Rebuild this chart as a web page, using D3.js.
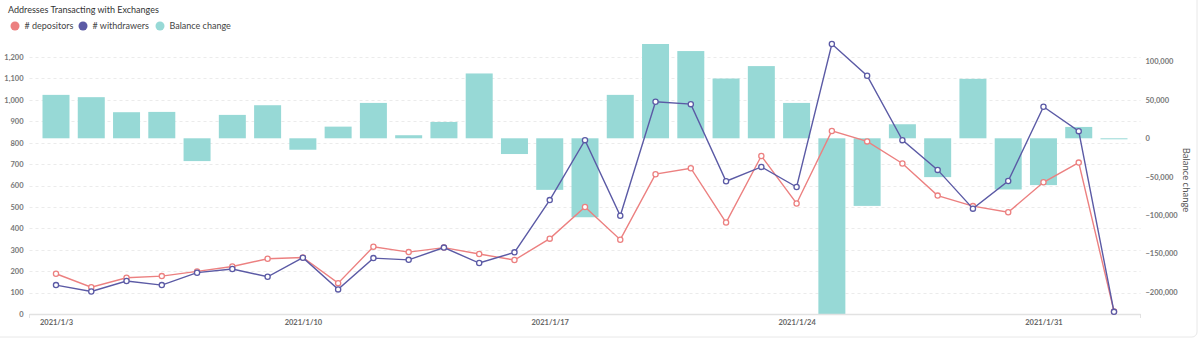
<!DOCTYPE html>
<html><head><meta charset="utf-8">
<script src="https://cdn.jsdelivr.net/npm/d3@7"></script>
<style>
body{margin:0;background:#fff;}
svg{display:block;font-family:Lato,"Open Sans",sans-serif;}
</style>
</head><body>
<svg id="c" width="1200" height="351"></svg>
<script>
const dates = ["2021/1/3","2021/1/4","2021/1/5","2021/1/6","2021/1/7","2021/1/8","2021/1/9",
  "2021/1/10","2021/1/11","2021/1/12","2021/1/13","2021/1/14","2021/1/15","2021/1/16",
  "2021/1/17","2021/1/18","2021/1/19","2021/1/20","2021/1/21","2021/1/22","2021/1/23",
  "2021/1/24","2021/1/25","2021/1/26","2021/1/27","2021/1/28","2021/1/29","2021/1/30",
  "2021/1/31","2021/2/1","2021/2/2"];
const depositors = [188,125,169,177,199,222,258,264,144,314,289,310,280,252,352,500,347,653,681,427,738,516,855,806,703,553,504,475,615,707,12];
const withdrawers = [135,105,154,135,193,210,174,263,115,261,253,310,238,288,532,812,459,991,980,620,687,593,1261,1113,812,673,492,621,968,854,10];
const balanceChange = [56600,53600,34000,34400,-29700,30500,43100,-14900,15200,46100,4000,21300,84500,-20500,-67200,-102900,56600,122900,113700,77900,94100,46100,-229000,-88100,18300,-50600,77500,-66700,-61000,14800,-1200];
const leftTicks = [0,100,200,300,400,500,600,700,800,900,1000,1100,1200];
const rightTicks = [100000,50000,0,-50000,-100000,-150000,-200000];
const xTickLabels = ["2021/1/3","2021/1/10","2021/1/17","2021/1/24","2021/1/31"];
const seriesNames = ["# depositors","# withdrawers","Balance change"];

const colors = {dep:"#ec8080", wit:"#5b5aa5", bal:"#97d9d6"};
const svg = d3.select("#c");

// card border
svg.append("rect").attr("x",-6).attr("y",-6).attr("width",1203).attr("height",343)
  .attr("rx",5).attr("fill","none").attr("stroke","#e8e8e8");

const plotTop = 44, plotBottom = 314, plotLeft = 29.5, plotRight = 1140.5;
const x = d3.scalePoint().domain(dates).range([56,1114]);
const yL = d3.scaleLinear().domain([0, d3.max(withdrawers)]).range([plotBottom, plotTop]);
const yR = d3.scaleLinear().domain([d3.min(balanceChange), d3.max(balanceChange)]).range([plotBottom, plotTop]);

// grid
svg.append("g").selectAll("line").data(leftTicks.filter(d=>d>0)).join("line")
  .attr("x1",plotLeft).attr("x2",plotRight).attr("y1",d=>Math.round(yL(d))+0.5).attr("y2",d=>Math.round(yL(d))+0.5)
  .attr("stroke","#ebebeb").attr("stroke-dasharray","3,3");

// left axis
const ga = svg.append("g").attr("transform",`translate(${plotLeft},0)`)
  .call(d3.axisLeft(yL).tickValues(leftTicks).tickFormat(d3.format(",")).tickSize(0).tickPadding(6));
ga.select(".domain").remove();
ga.selectAll("text").attr("font-size",7.5).attr("font-weight","bold").attr("fill","#777").attr("font-family","Lato");

// right axis
const gr = svg.append("g").attr("transform",`translate(${plotRight},0)`)
  .call(d3.axisRight(yR).tickValues(rightTicks).tickFormat(d3.format(",")).tickSize(0).tickPadding(5));
gr.select(".domain").remove();
gr.selectAll("text").attr("font-size",7.5).attr("font-weight","bold").attr("fill","#777").attr("font-family","Lato");

// bottom axis
const gb = svg.append("g").attr("transform",`translate(0,${plotBottom})`)
  .call(d3.axisBottom(x).tickValues(xTickLabels).tickSize(0).tickPadding(6));
gb.select(".domain").remove();
gb.selectAll("text").attr("font-size",7.5).attr("font-weight","bold").attr("fill","#666").attr("font-family","Lato");

// bars
svg.append("g").selectAll("rect").data(balanceChange).join("rect")
  .attr("x",(d,i)=>x(dates[i])-13.5).attr("width",27)
  .attr("y",d=>Math.min(yR(d),yR(0))).attr("height",d=>Math.max(1,Math.abs(yR(d)-yR(0))))
  .attr("fill",colors.bal);

// x axis line
svg.append("line").attr("x1",plotLeft).attr("x2",plotRight).attr("y1",plotBottom+0.5).attr("y2",plotBottom+0.5)
  .attr("stroke","#e2e2e2").attr("stroke-width",1.5);
svg.append("g").selectAll("line").data([plotLeft,plotRight]).join("line")
  .attr("x1",d=>d).attr("x2",d=>d).attr("y1",plotBottom).attr("y2",plotBottom+4).attr("stroke","#e2e2e2");

// lines
function drawLine(vals,col){
  const line = d3.line().x((d,i)=>x(dates[i])).y(d=>yL(d));
  svg.append("path").datum(vals).attr("d",line).attr("fill","none").attr("stroke",col).attr("stroke-width",1.4);
  svg.append("g").selectAll("circle").data(vals).join("circle")
    .attr("cx",(d,i)=>x(dates[i])).attr("cy",d=>yL(d)).attr("r",2.6)
    .attr("fill","#fff").attr("stroke",col).attr("stroke-width",1.3);
}
drawLine(depositors,colors.dep);
drawLine(withdrawers,colors.wit);

// title
svg.append("text").attr("x",8).attr("y",12.5).attr("font-size",9).attr("fill","#333")
  .text("Addresses Transacting with Exchanges");

// legend
const lx = [15,83,160], lc=[colors.dep,colors.wit,colors.bal];
const lg = svg.append("g").selectAll("g").data(seriesNames).join("g")
  .attr("transform",(d,i)=>`translate(${lx[i]},26)`);
lg.append("circle").attr("r",4.5).attr("fill",(d,i)=>lc[i]);
lg.append("text").attr("x",9.5).attr("y",3.2).attr("font-size",9).attr("fill","#444").text(d=>d);

// right axis title
svg.append("text").attr("transform","translate(1183,180) rotate(90)").attr("text-anchor","middle")
  .attr("font-size",9.5).attr("fill","#555").text("Balance change");
</script>
</body></html>
